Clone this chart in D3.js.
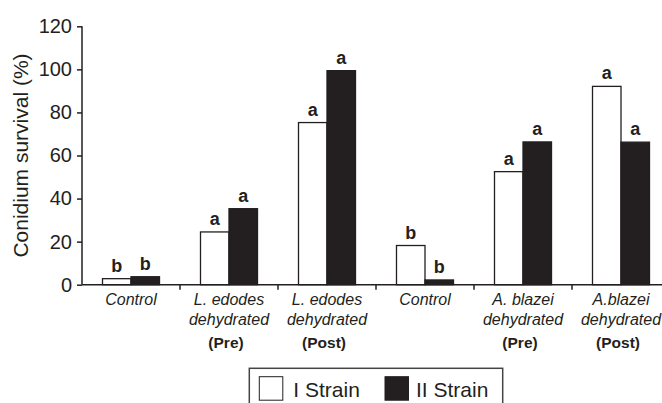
<!DOCTYPE html>
<html>
<head>
<meta charset="utf-8">
<script src="https://cdn.jsdelivr.net/npm/d3@7"></script>
<style>
  body { margin: 0; background: #fff; }
  svg { display: block; font-family: "Liberation Sans", Arial, sans-serif; }
</style>
</head>
<body>
<svg id="chart" width="662" height="403"></svg>
<script>
// categories (two label lines + stage)
const catLine1 = ["Control", "L. edodes", "L. edodes", "Control", "A. blazei", "A.blazei"];
const catLine2 = ["", "dehydrated", "dehydrated", "", "dehydrated", "dehydrated"];
const catStage = ["", "(Pre)", "(Post)", "", "(Pre)", "(Post)"];

const seriesNames = ["I Strain", "II Strain"];
const strainI = [2.8, 24.5, 75.3, 18.2, 52.5, 92.1];
const strainII = [3.7, 35.3, 99.4, 2.2, 66.3, 66.2];
const lettersI = ["b", "a", "a", "b", "a", "a"];
const lettersII = ["b", "a", "a", "b", "a", "a"];
const yTicks = [0, 20, 40, 60, 80, 100, 120];

const ink = "#231f20";
const svg = d3.select("#chart");

const x = d3.scaleBand()
  .domain(d3.range(catLine1.length))
  .range([82, 670]);

const x1 = d3.scaleBand()
  .domain([0, 1])
  .range([20.5, x.bandwidth() - 20.5]);

const y = d3.scaleLinear()
  .domain([0, 120])
  .range([284.7, 26.3]);

// y axis
const yAxis = svg.append("g")
  .attr("transform", "translate(82,0)")
  .call(d3.axisLeft(y).tickValues(yTicks).tickSize(5).tickPadding(5))
  .attr("font-family", null)
  .attr("font-size", null);
yAxis.select(".domain").attr("stroke", ink).attr("stroke-width", 1.5).attr("d", `M0,${y(120)}V${y(0)}`);
yAxis.selectAll(".tick line").attr("stroke", ink).attr("stroke-width", 1.5);
yAxis.selectAll(".tick text")
  .attr("fill", ink)
  .style("font-size", "20px");

svg.append("text")
  .attr("transform", `translate(28,${(y(0) + y(120)) / 2}) rotate(-90)`)
  .attr("text-anchor", "middle")
  .attr("fill", ink)
  .style("font-size", "21px")
  .text("Conidium survival (%)");

// bars
const groups = svg.append("g").selectAll("g")
  .data(d3.range(catLine1.length))
  .join("g")
  .attr("transform", (i) => `translate(${x(i)},0)`);

const vals = [strainI, strainII];
const lets = [lettersI, lettersII];

groups.selectAll("rect")
  .data((i) => [0, 1].map((s) => ({ s, v: vals[s][i] })))
  .join("rect")
  .attr("x", (d) => x1(d.s))
  .attr("width", x1.bandwidth())
  .attr("y", (d) => y(d.v))
  .attr("height", (d) => y(0) - y(d.v))
  .attr("fill", (d) => (d.s === 0 ? "#fff" : ink))
  .attr("stroke", ink)
  .attr("stroke-width", 1.3);

groups.selectAll("text.sig")
  .data((i) => [0, 1].map((s) => ({ s, v: vals[s][i], t: lets[s][i] })))
  .join("text")
  .attr("class", "sig")
  .attr("x", (d) => x1(d.s) + x1.bandwidth() / 2)
  .attr("y", (d) => Math.min(y(d.v) - 7, 277))
  .attr("text-anchor", "middle")
  .attr("fill", ink)
  .style("font-size", "18px")
  .style("font-weight", "bold")
  .text((d) => d.t);

// x axis
svg.append("line")
  .attr("x1", 82).attr("x2", 662)
  .attr("y1", y(0)).attr("y2", y(0))
  .attr("stroke", ink).attr("stroke-width", 1.5);

svg.append("g").selectAll("line")
  .data(d3.range(1, catLine1.length))
  .join("line")
  .attr("x1", (i) => x(i)).attr("x2", (i) => x(i))
  .attr("y1", y(0)).attr("y2", y(0) + 5)
  .attr("stroke", ink).attr("stroke-width", 1.5);

const labels = svg.append("g").selectAll("g")
  .data(d3.range(catLine1.length))
  .join("g")
  .attr("transform", (i) => `translate(${x(i) + x.bandwidth() / 2},0)`)
  .attr("fill", ink)
  .attr("text-anchor", "middle");

labels.append("text").attr("y", 305).style("font-size", "16px").style("font-style", "italic").text((i) => catLine1[i]);
labels.append("text").attr("y", 325).style("font-size", "16px").style("font-style", "italic").text((i) => catLine2[i]);
labels.append("text").attr("y", 348).attr("dx", -3).style("font-size", "15.5px").style("font-weight", "bold").text((i) => catStage[i]);

// legend
const legend = svg.append("g");
legend.append("rect")
  .attr("x", 249.3).attr("y", 368.3)
  .attr("width", 253.4).attr("height", 50)
  .attr("fill", "#fff").attr("stroke", "#444").attr("stroke-width", 1.5);

const legItems = legend.selectAll("g")
  .data(seriesNames)
  .join("g")
  .attr("transform", (d, i) => `translate(${i === 0 ? 259.3 : 385},0)`);

legItems.append("rect")
  .attr("x", 0).attr("y", 376.7)
  .attr("width", 23.5).attr("height", 23.5)
  .attr("fill", (d, i) => (i === 0 ? "#fff" : ink))
  .attr("stroke", ink).attr("stroke-width", 1);

legItems.append("text")
  .attr("x", (d, i) => (i === 0 ? 34 : 31))
  .attr("y", 397)
  .attr("fill", ink)
  .style("font-size", "21px")
  .text((d) => d);
</script>
</body>
</html>
